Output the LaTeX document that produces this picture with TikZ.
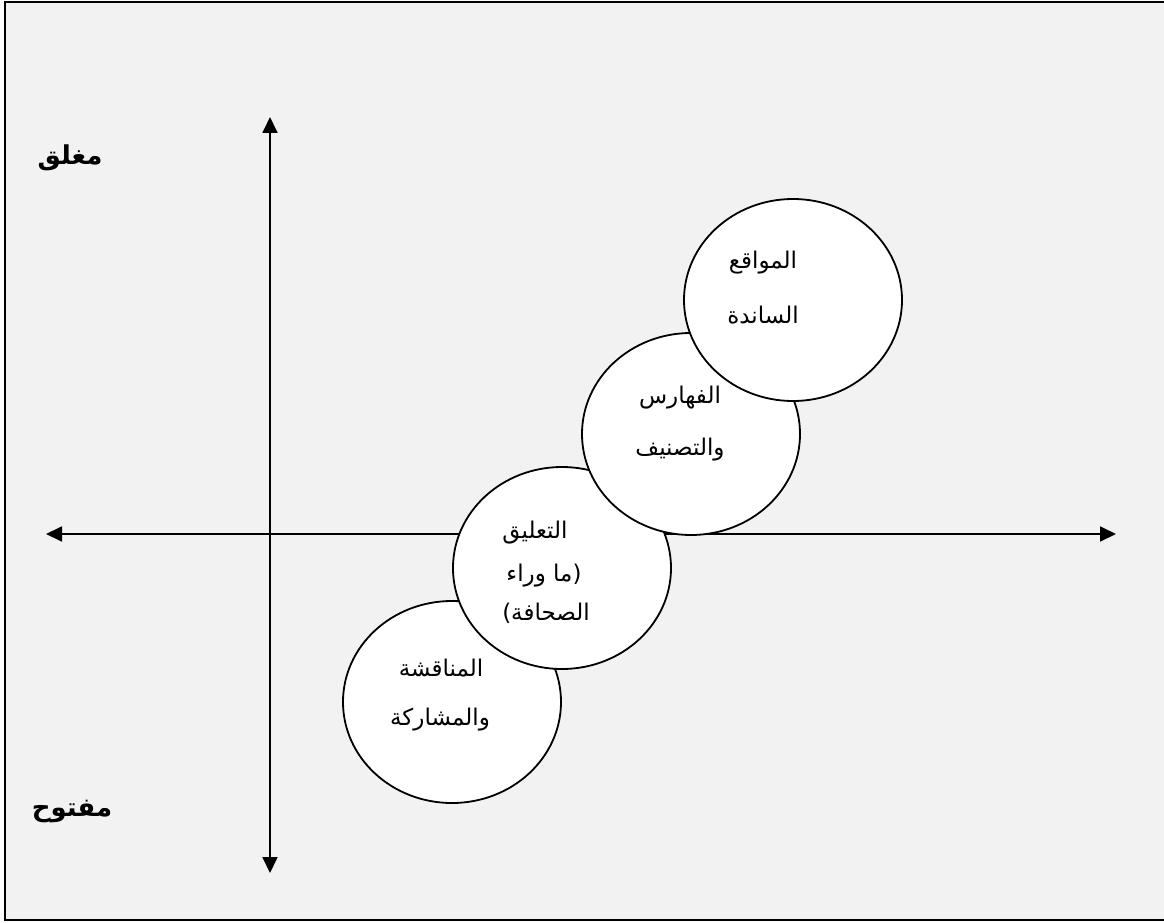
\documentclass[tikz,border=0pt]{standalone}
\usepackage{fontspec}
\usetikzlibrary{arrows.meta,shapes.geometric}
\TeXXeTstate=1
\newfontfamily\arabicfont[Script=Arabic]{DejaVu Sans}
\definecolor{bggray}{HTML}{F2F2F2}
\tikzset{
  axis/.style={line width=1.8pt,-{Triangle[length=16pt,width=15pt]}},
  bubble/.style={ellipse,draw,line width=1.8pt,fill=white,minimum width=218pt,minimum height=202pt,inner sep=0pt},
  lbl/.style={font=\arabicfont\fontsize{23}{26}\selectfont,inner sep=0pt},
  big/.style={font=\arabicfont\bfseries\fontsize{26}{30}\selectfont,inner sep=0pt}
}
\begin{document}
\begin{tikzpicture}[x=1pt,y=-1pt]
\useasboundingbox (0,0) rectangle (1164,923);
\fill[white] (0,0) rectangle (1164,923);
\fill[bggray] (5,2) rectangle (1164,920);
\draw[line width=1.8pt] (1164,2) -- (5,2) -- (5,920) -- (1164,920);
% axes
\coordinate (top) at (270,117);
\coordinate (bot) at (270,873);
\coordinate (left) at (46,534);
\coordinate (right) at (1116,534);
\coordinate (vmid) at (270,534);
\draw[axis] (vmid) -- (top);
\draw[axis] (vmid) -- (bot);
\draw[axis] (vmid) -- (left);
\draw[axis] (vmid) -- (right);
% bubbles
\node[bubble] (c4) at (452,702) {};
\node[bubble] (c3) at (562,568) {};
\node[bubble] (c2) at (691,434) {};
\node[bubble] (c1) at (793,300) {};
% texts
\node[lbl] (t1a) at (763,263) {\beginR المواقع\endR};
\node[lbl] (t1b) at (763,315) {\beginR الساندة\endR};
\node[lbl] (t2a) at (680,398) {\beginR الفهارس\endR};
\node[lbl] (t2b) at (680,450) {\beginR والتصنيف\endR};
\node[lbl] (t3a) at (535,533) {\beginR التعليق\endR};
\node[lbl] (t3b) at (544,576) {\beginR (ما وراء\endR};
\node[lbl] (t3c) at (546,613) {\beginR الصحافة)\endR};
\node[lbl] (t4a) at (441,668) {\beginR المناقشة\endR};
\node[lbl] (t4b) at (440,720) {\beginR والمشاركة\endR};
\node[big] (closed) at (70,158) {\beginR مغلق\endR};
\node[big] (open) at (72,812) {\beginR مفتوح\endR};
\end{tikzpicture}
\end{document}
